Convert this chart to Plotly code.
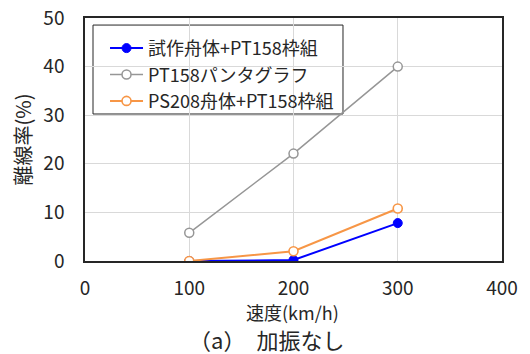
import plotly.graph_objects as go

speed = [100, 200, 300]
series_names = ["試作舟体+PT158枠組", "PT158パンタグラフ", "PS208舟体+PT158枠組"]
prototype_vals = [0, 0.2, 7.8]
pt158_vals = [5.8, 22.1, 40.0]
ps208_vals = [0, 2.0, 10.8]

font_family = "Noto Sans CJK JP"
text_color = "#262626"

fig = go.Figure()
fig.add_trace(go.Scatter(
    x=speed, y=prototype_vals, name=series_names[0], mode="lines+markers",
    line=dict(color="#0000FF", width=2),
    marker=dict(symbol="circle", size=9, color="#0000FF", line=dict(color="#0000FF", width=1)),
))
fig.add_trace(go.Scatter(
    x=speed, y=pt158_vals, name=series_names[1], mode="lines+markers",
    line=dict(color="#969696", width=1.5),
    marker=dict(symbol="circle", size=9, color="white", line=dict(color="#969696", width=1.5)),
))
fig.add_trace(go.Scatter(
    x=speed, y=ps208_vals, name=series_names[2], mode="lines+markers",
    line=dict(color="#F79646", width=2),
    marker=dict(symbol="circle", size=9, color="white", line=dict(color="#F79646", width=1.6)),
))

axis_common = dict(
    showgrid=True, gridcolor="#D9D9D9", gridwidth=1,
    showline=True, linecolor=text_color, linewidth=1.5, mirror=True,
    zeroline=False, ticks="", automargin=False,
    tickfont=dict(family=font_family, size=19, color=text_color),
)

fig.update_layout(
    width=530, height=354,
    margin=dict(l=85, r=28, t=18, b=93),
    paper_bgcolor="white", plot_bgcolor="white",
    font=dict(family=font_family, color=text_color),
    showlegend=True,
    legend=dict(
        x=0.048, y=0.951, xanchor="left", yanchor="top",
        bgcolor="rgba(0,0,0,0)", borderwidth=0,
        font=dict(family=font_family, size=18, color=text_color),
        tracegroupgap=0, itemwidth=33,
    ),
    xaxis=dict(
        range=[0, 400], tickvals=[0, 100, 200, 300, 400], ticklabelstandoff=9,
        **axis_common,
    ),
    yaxis=dict(
        range=[0, 50], tickvals=[0, 10, 20, 30, 40, 50], ticklabelstandoff=15,
        title=dict(text="離線率(%)", font=dict(family=font_family, size=20), standoff=6),
        **axis_common,
    ),
    shapes=[dict(
        type="rect", xref="paper", yref="paper",
        x0=0.0192, x1=0.6187, y0=0.605, y1=0.971,
        fillcolor="white", line=dict(color=text_color, width=1), layer="between",
    )],
    annotations=[
        dict(
            text="速度(km/h)", xref="paper", yref="paper", x=0.497, y=-0.208,
            xanchor="center", yanchor="middle", showarrow=False,
            font=dict(family=font_family, size=18, color=text_color),
        ),
        dict(
            text="（a）　加振なし", xref="paper", yref="paper", x=0.435, y=-0.322,
            xanchor="center", yanchor="middle", showarrow=False,
            font=dict(family=font_family, size=22, color=text_color),
        ),
    ],
)

fig.write_html("out.html")
